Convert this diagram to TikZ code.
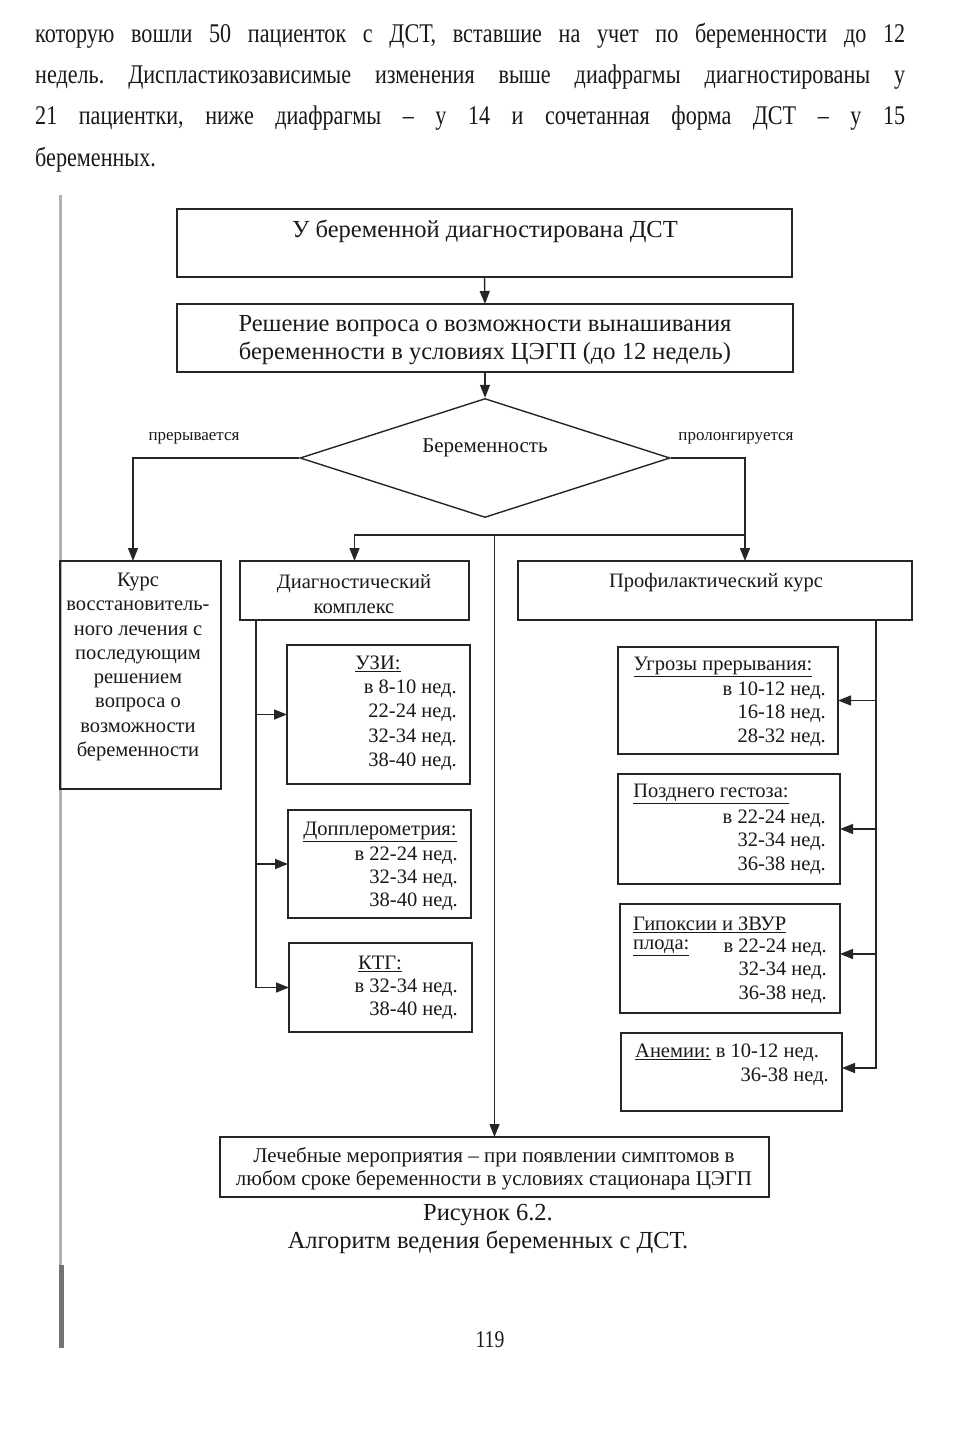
\documentclass[tikz,border=0pt]{standalone}
\usepackage{fontspec}
\setmainfont{Liberation Serif}
\newfontfamily\condfont[FakeStretch=0.82,Ligatures=TeX]{Liberation Serif}
\usetikzlibrary{arrows.meta,shapes.geometric}
\begin{document}
\frenchspacing
\begin{tikzpicture}[x=1pt,y=-1pt,
  box/.style={draw=black!85,line width=1.4pt,anchor=north west,inner sep=0pt,outer sep=0pt},
  arr/.style={draw=black!85,line width=1.4pt,-{Triangle[length=13pt,width=10pt]}},
  t/.style={inner sep=0pt,font=\fontsize{20.5}{24.3}\selectfont,text=black!90},
  tb/.style={inner sep=0pt,font=\fontsize{24.5}{28}\selectfont,text=black!90},
  ts/.style={inner sep=0pt,font=\fontsize{17}{19}\selectfont,text=black!90},
  tl/.style={inner sep=0pt,font=\fontsize{21}{23}\selectfont,text=black!90},
  tc/.style={inner sep=0pt,font=\fontsize{24.5}{27}\selectfont,text=black!90},
  tp/.style={inner sep=0pt,anchor=west,font=\condfont\fontsize{27}{30}\selectfont,text=black!90}]
\useasboundingbox (0,0) rectangle (957,1448);
\fill[white] (0,0) rectangle (957,1448);
% scan edge
\draw[line width=3pt,black!30] (60,195) -- (60,1300);
\draw[line width=5pt,black!55] (61,1265) -- (61,1348);
% paragraph
\node[tp] (p1) at (35,36) {\makebox[870pt][s]{которую вошли 50 пациенток с ДСТ, вставшие на учет по беременности до 12}};
\node[tp] (p2) at (35,77) {\makebox[870pt][s]{недель. Диспластикозависимые изменения выше диафрагмы диагностированы у}};
\node[tp] (p3) at (35,118) {\makebox[870pt][s]{21 пациентки, ниже диафрагмы – у 14 и сочетанная форма ДСТ – у 15}};
\node[tp] (p4) at (35,160) {беременных.};
% boxes
\node[box,minimum width=615pt,minimum height=68pt] (b1) at (177,209) {};
\node[box,minimum width=616pt,minimum height=68pt] (b2) at (177,304) {};
\node[draw=black!85,line width=1.4pt,diamond,minimum width=370pt,minimum height=119pt,inner sep=0pt] (dia) at (485,458) {};
\node[box,minimum width=161pt,minimum height=228pt] (kurs) at (60,561) {};
\node[box,minimum width=229pt,minimum height=59pt] (diag) at (240,561) {};
\node[box,minimum width=394pt,minimum height=59pt] (prof) at (518,561) {};
\node[box,minimum width=183pt,minimum height=139pt] (uzi) at (287,645) {};
\node[box,minimum width=183pt,minimum height=108pt] (dop) at (288,810) {};
\node[box,minimum width=183pt,minimum height=89pt] (ktg) at (289,943) {};
\node[box,minimum width=220pt,minimum height=107pt] (ugr) at (618,647) {};
\node[box,minimum width=222pt,minimum height=110pt] (pozd) at (618,774) {};
\node[box,minimum width=220pt,minimum height=109pt] (gip) at (620,904) {};
\node[box,minimum width=221pt,minimum height=78pt] (anem) at (621,1033) {};
\node[box,minimum width=549pt,minimum height=60pt] (lech) at (220,1137) {};
% texts
\node[tb] (t1) at (485,231) {У беременной диагностирована ДСТ};
\node[tb,align=center] (t2) at (485,340) {Решение вопроса о возможности вынашивания\\беременности в условиях ЦЭГП (до 12 недель)};
\node[t,font=\fontsize{21}{24}\selectfont] (t3) at (485,448) {Беременность};
\node[ts] (lp) at (194,438) {прерывается};
\node[ts] (lr) at (736,438) {пролонгируется};
\node[t,align=center] (tk) at (138,667) {Курс\\восстановитель-\\ного лечения с\\последующим\\решением\\вопроса о\\возможности\\беременности};
\node[t,align=center,font=\fontsize{20.5}{25}\selectfont] (td) at (354,594) {Диагностический\\комплекс};
\node[t] (tpk) at (716,583) {Профилактический курс};
% UZI
\node[t] (u0) at (378,664) {\underline{УЗИ:}};
\node[t,anchor=east] (u1) at (457,689) {в 8-10 нед.};
\node[t,anchor=east] (u2) at (457,713) {22-24 нед.};
\node[t,anchor=east] (u3) at (457,738) {32-34 нед.};
\node[t,anchor=east] (u4) at (457,762) {38-40 нед.};
% Doppler
\node[t] (d0) at (380,832) {\underline{Допплерометрия:}};
\node[t,anchor=east] (d1) at (458,856) {в 22-24 нед.};
\node[t,anchor=east] (d2) at (458,879) {32-34 нед.};
\node[t,anchor=east] (d3) at (458,902) {38-40 нед.};
% KTG
\node[t] (k0) at (380,964) {\underline{КТГ:}};
\node[t,anchor=east] (k1) at (458,988) {в 32-34 нед.};
\node[t,anchor=east] (k2) at (458,1011) {38-40 нед.};
% Ugrozy
\node[t] (g0) at (723,667) {\underline{Угрозы прерывания:}};
\node[t,anchor=east] (g1) at (826,691) {в 10-12 нед.};
\node[t,anchor=east] (g2) at (826,714) {16-18 нед.};
\node[t,anchor=east] (g3) at (826,738) {28-32 нед.};
% Pozdnego
\node[t] (z0) at (711,794) {\underline{Позднего гестоза:}};
\node[t,anchor=east] (z1) at (826,819) {в 22-24 нед.};
\node[t,anchor=east] (z2) at (826,842) {32-34 нед.};
\node[t,anchor=east] (z3) at (826,866) {36-38 нед.};
% Gipoksii
\node[t,anchor=west] (h0) at (633,925) {\underline{Гипоксии и ЗВУР}};
\node[t,anchor=west] (h1) at (633,948) {\underline{плода:}};
\node[t,anchor=east] (h2) at (827,948) {в 22-24 нед.};
\node[t,anchor=east] (h3) at (827,971) {32-34 нед.};
\node[t,anchor=east] (h4) at (827,995) {36-38 нед.};
% Anemii
\node[t,anchor=west] (a0) at (635,1053) {\underline{Анемии:} в 10-12 нед.};
\node[t,anchor=east] (a1) at (829,1077) {36-38 нед.};
% bottom
\node[tl,align=center] (tl1) at (494,1169) {Лечебные мероприятия – при появлении симптомов в\\любом сроке беременности в условиях стационара ЦЭГП};
\node[tc] (c1) at (488,1215) {Рисунок 6.2.};
\node[tc] (c2) at (488,1242) {Алгоритм ведения беременных с ДСТ.};
\node[tp,anchor=center,font=\condfont\fontsize{24}{28}\selectfont] (pg) at (490,1340) {119};
% connectors
\draw[arr] (b1.south) -- (b2.north);
\draw[arr] (b2.south) -- (dia.north);
\draw[arr] (dia.west) -| ([xshift=-7.5pt]kurs.north);
\draw[arr] (dia.east) -| ([xshift=30pt]prof.north);
\coordinate (br) at ([xshift=30pt]prof.north |- 0,535);
\draw[arr] (br) -| (diag.north);
\draw[arr] (lech.north |- br) -- (lech.north);
\coordinate (lb) at ([xshift=16pt]diag.south west);
\draw[arr] (lb) |- (ktg.west);
\draw[arr] (lb |- uzi.west) -- (uzi.west);
\draw[arr] (lb |- dop.west) -- (dop.west);
\coordinate (rb) at ([xshift=-36pt]prof.south east);
\draw[arr] (rb) |- ([yshift=4pt]anem.east);
\draw[arr] (rb |- ugr.east) -- (ugr.east);
\draw[arr] (rb |- pozd.east) -- (pozd.east);
\draw[arr] (rb |- 0,954) -- (gip.east |- 0,954);
\end{tikzpicture}
\end{document}
